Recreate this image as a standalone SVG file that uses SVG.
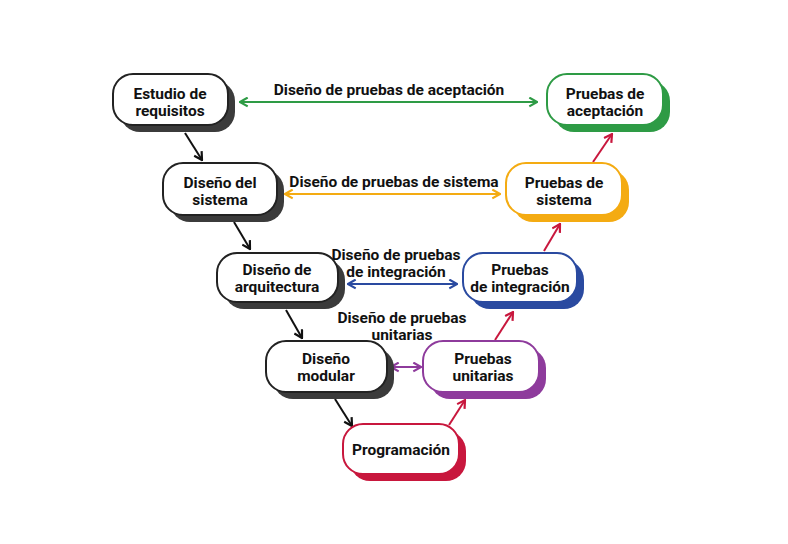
<svg xmlns="http://www.w3.org/2000/svg" width="788" height="544" viewBox="0 0 788 544">
<style>
.t{font-family:Roboto,"Liberation Sans",sans-serif;font-weight:bold;font-size:15.5px;fill:#111;text-anchor:middle}
.box{fill:#fff;stroke-width:2}
.k .box{stroke:#222}.k .sh{fill:#3b3b3b}
.g .box{stroke:#2e9b45}.g .sh{fill:#2e9b45}
.o .box{stroke:#f4ab12}.o .sh{fill:#f4ab12}
.b .box{stroke:#2a4aa0}.b .sh{fill:#2a4aa0}
.p .box{stroke:#8e3b9c}.p .sh{fill:#8e3b9c}
.r .box{stroke:#c8173d}.r .sh{fill:#c8173d}
.c{fill:none;stroke-width:2}
</style>
<defs>
<marker id="mkK" viewBox="0 0 10 10" refX="9" refY="5" markerWidth="11" markerHeight="11" markerUnits="userSpaceOnUse" orient="auto"><path d="M2,1 L9,5 L2,9" fill="none" stroke="#111" stroke-width="2"/></marker>
<marker id="mkR" viewBox="0 0 10 10" refX="9" refY="5" markerWidth="11" markerHeight="11" markerUnits="userSpaceOnUse" orient="auto"><path d="M2,1 L9,5 L2,9" fill="none" stroke="#c8173d" stroke-width="2"/></marker>
<marker id="mkG" viewBox="0 0 10 10" refX="9" refY="5" markerWidth="11" markerHeight="11" markerUnits="userSpaceOnUse" orient="auto-start-reverse"><path d="M2,1 L9,5 L2,9" fill="none" stroke="#2e9b45" stroke-width="2"/></marker>
<marker id="mkO" viewBox="0 0 10 10" refX="9" refY="5" markerWidth="11" markerHeight="11" markerUnits="userSpaceOnUse" orient="auto-start-reverse"><path d="M2,1 L9,5 L2,9" fill="none" stroke="#f4ab12" stroke-width="2"/></marker>
<marker id="mkB" viewBox="0 0 10 10" refX="9" refY="5" markerWidth="11" markerHeight="11" markerUnits="userSpaceOnUse" orient="auto-start-reverse"><path d="M2,1 L9,5 L2,9" fill="none" stroke="#2a4aa0" stroke-width="2"/></marker>
<marker id="mkP" viewBox="0 0 10 10" refX="9" refY="5" markerWidth="11" markerHeight="11" markerUnits="userSpaceOnUse" orient="auto-start-reverse"><path d="M2,1 L9,5 L2,9" fill="none" stroke="#8e3b9c" stroke-width="2"/></marker>
</defs>
<rect width="788" height="544" fill="#fff"/>

<g id="connectors">
<line class="c" x1="185" y1="133" x2="202" y2="160" stroke="#111" marker-end="url(#mkK)"/>
<line class="c" x1="234" y1="222" x2="250" y2="249" stroke="#111" marker-end="url(#mkK)"/>
<line class="c" x1="286" y1="310" x2="302" y2="338" stroke="#111" marker-end="url(#mkK)"/>
<line class="c" x1="335" y1="399" x2="352" y2="426" stroke="#111" marker-end="url(#mkK)"/>
<line class="c" x1="449" y1="425" x2="465" y2="400" stroke="#c8173d" marker-end="url(#mkR)"/>
<line class="c" x1="495" y1="340" x2="513" y2="312" stroke="#c8173d" marker-end="url(#mkR)"/>
<line class="c" x1="544" y1="251" x2="560" y2="224" stroke="#c8173d" marker-end="url(#mkR)"/>
<line class="c" x1="593" y1="162" x2="612" y2="134" stroke="#c8173d" marker-end="url(#mkR)"/>
<line class="c" x1="240" y1="102" x2="537" y2="102" stroke="#2e9b45" marker-start="url(#mkG)" marker-end="url(#mkG)"/>
<line class="c" x1="285" y1="194" x2="500" y2="194" stroke="#f4ab12" marker-start="url(#mkO)" marker-end="url(#mkO)"/>
<line class="c" x1="348" y1="284" x2="457" y2="284" stroke="#2a4aa0" marker-start="url(#mkB)" marker-end="url(#mkB)"/>
<line class="c" x1="391" y1="367" x2="421" y2="367" stroke="#8e3b9c" marker-start="url(#mkP)" marker-end="url(#mkP)"/>
<text class="t" x="389" y="95">Diseño de pruebas de aceptación</text>
<text class="t" x="394" y="187">Diseño de pruebas de sistema</text>
<text class="t" x="396" y="260">Diseño de pruebas</text>
<text class="t" x="396" y="277">de integración</text>
<text class="t" x="402" y="323">Diseño de pruebas</text>
<text class="t" x="402" y="340">unitarias</text>
</g>

<g id="n1" class="k"><rect class="sh" x="120" y="81" width="115" height="51" rx="20"/><rect class="box" x="113" y="74" width="115" height="51" rx="20"/><text class="t" x="170" y="99">Estudio de</text><text class="t" x="170" y="116">requisitos</text></g>
<g id="n2" class="k"><rect class="sh" x="170" y="170" width="114" height="52" rx="20"/><rect class="box" x="163" y="163" width="114" height="52" rx="20"/><text class="t" x="220" y="188">Diseño del</text><text class="t" x="220" y="205">sistema</text></g>
<g id="n3" class="k"><rect class="sh" x="224" y="260" width="121" height="49" rx="20"/><rect class="box" x="217" y="253" width="121" height="49" rx="20"/><text class="t" x="277" y="275">Diseño de</text><text class="t" x="277" y="292">arquitectura</text></g>
<g id="n4" class="k"><rect class="sh" x="273" y="348" width="121" height="51" rx="20"/><rect class="box" x="266" y="341" width="121" height="51" rx="20"/><text class="t" x="326" y="364">Diseño</text><text class="t" x="326" y="381">modular</text></g>
<g id="n5" class="r"><rect class="sh" x="350" y="431" width="116" height="50" rx="20"/><rect class="box" x="343" y="424" width="116" height="50" rx="20"/><text class="t" x="401" y="455">Programación</text></g>
<g id="n6" class="p"><rect class="sh" x="430" y="348" width="116" height="51" rx="20"/><rect class="box" x="423" y="341" width="116" height="51" rx="20"/><text class="t" x="483" y="364">Pruebas</text><text class="t" x="483" y="381">unitarias</text></g>
<g id="n7" class="b"><rect class="sh" x="470" y="260" width="114" height="49" rx="20"/><rect class="box" x="463" y="253" width="114" height="49" rx="20"/><text class="t" x="520" y="275">Pruebas</text><text class="t" x="520" y="292">de integración</text></g>
<g id="n8" class="o"><rect class="sh" x="513" y="170" width="116" height="52" rx="20"/><rect class="box" x="506" y="163" width="116" height="52" rx="20"/><text class="t" x="564" y="188">Pruebas de</text><text class="t" x="564" y="205">sistema</text></g>
<g id="n9" class="g"><rect class="sh" x="554" y="81" width="116" height="51" rx="20"/><rect class="box" x="547" y="74" width="116" height="51" rx="20"/><text class="t" x="605" y="99">Pruebas de</text><text class="t" x="605" y="116">aceptación</text></g>
</svg>
